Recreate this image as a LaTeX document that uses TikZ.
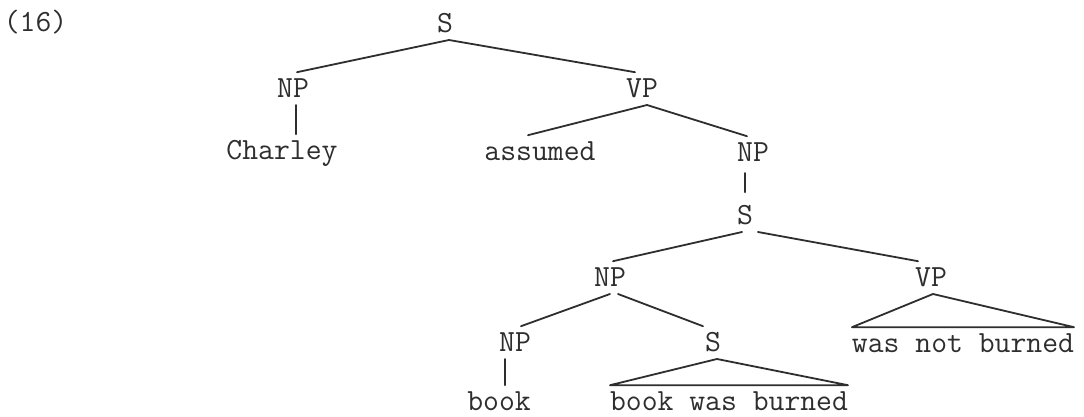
\documentclass[tikz,border=0pt]{standalone}
\begin{document}
\begin{tikzpicture}[
  x=0.5pt, y=-0.5pt,
  ink/.style={black!82},
  lab/.style={ink, anchor=base, font=\fontsize{15.4}{18}\selectfont\ttfamily,
    text height=9.4pt, text depth=0pt, inner xsep=0pt, inner ysep=3.5pt, outer sep=0pt},
  branch/.style={ink, line width=0.9pt, line cap=round, line join=round}
]
% canvas
\fill[white] (0,0) rectangle (1084,417);
\useasboundingbox (0,0) rectangle (1084,417);

% example number
\node[lab] (ex) at (35.5,32) {(16)};

% labels of the tree
\node[lab] (S0)  at (445,33)  {S};
\node[lab] (NP1) at (293,98)  {NP};
\node[lab] (VP1) at (642,98)  {VP};
\node[lab] (charley) at (282,160) {Charley};
\node[lab] (assumed) at (540,161) {assumed};
\node[lab] (NP2) at (753,162) {NP};
\node[lab] (S2)  at (745,225) {S};
\node[lab] (NP3) at (610,287) {NP};
\node[lab] (VP3) at (931,287) {VP};
\node[lab] (NP4) at (515,352) {NP};
\node[lab] (S4)  at (713,352) {S};
\node[lab] (wnb) at (963,353) {was not burned};
\node[lab] (book) at (499,411) {book};
\node[lab] (bwb) at (729,411) {book was burned};

% branches
\draw[branch] ([xshift=2pt]S0.south) -- ([xshift=2pt]NP1.north);
\draw[branch] ([xshift=2pt]S0.south) -- ([xshift=-3.5pt]VP1.north);
\draw[branch] ([xshift=1.5pt]NP1.south) -- ([xshift=1.5pt]NP1.south |- charley.north);
\draw[branch] ([xshift=2.5pt]VP1.south) -- ([xshift=-6pt]assumed.north);
\draw[branch] ([xshift=2.5pt]VP1.south) -- ([xshift=-3pt]NP2.north);
\draw[branch, shorten <=2pt, shorten >=3.5pt] ([xshift=-4pt]NP2.south) -- ([xshift=-4pt]NP2.south |- S2.north);
\draw[branch] ([xshift=-1.5pt]S2.south) -- ([xshift=1.5pt]NP3.north);
\draw[branch] ([xshift=6.5pt]S2.south) -- ([xshift=-6.5pt]VP3.north);
\draw[branch] (NP3.south) -- ([xshift=3pt]NP4.north);
\draw[branch] ([xshift=4pt]NP3.south) -- ([xshift=-5pt]S4.north);
\draw[branch] ([xshift=-5pt]NP4.south) -- ([xshift=-5pt]NP4.south |- book.north);

% triangles over unanalysed constituents
\draw[branch] ([xshift=1pt]VP3.south) -- (wnb.north west) -- (wnb.north east) -- cycle;
\draw[branch] ([xshift=2pt]S4.south) -- (bwb.north west) -- (bwb.north east) -- cycle;
\end{tikzpicture}
\end{document}
